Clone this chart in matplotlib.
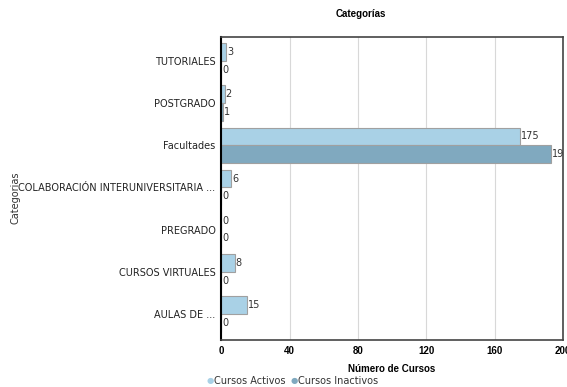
import numpy as np
import matplotlib.pyplot as plt

categorias = ["TUTORIALES", "POSTGRADO", "Facultades",
              "COLABORACIÓN INTERUNIVERSITARIA ...", "PREGRADO",
              "CURSOS VIRTUALES", "AULAS DE ..."]
activos = [3, 2, 175, 6, 0, 8, 15]
inactivos = [0, 1, 193, 0, 0, 0, 0]
ticks_x = [0, 40, 80, 120, 160, 200]

col_act = "#a9d1e6"
col_inact = "#80a9bf"
bold_font = "Liberation Sans"

fig = plt.figure(figsize=(5.67, 3.87), dpi=100)
ax = fig.add_axes([0.39, 0.1214, 0.603, 0.783])

y = np.arange(len(categorias))
h = 0.42
ax.barh(y - h / 2, activos, height=h, color=col_act, edgecolor="#a0a0a0", linewidth=0.8)
ax.barh(y + h / 2, inactivos, height=h, color=col_inact, edgecolor="#a0a0a0", linewidth=0.8)

for i in range(len(categorias)):
    ax.text(activos[i] + 0.6, y[i] - h / 2, str(activos[i]), fontsize=7,
            va="center", ha="left", color="#333333", clip_on=True)
    ax.text(inactivos[i] + 0.6, y[i] + h / 2, str(inactivos[i]), fontsize=7,
            va="center", ha="left", color="#333333", clip_on=True)

ax.set_xlim(0, 200)
ax.set_ylim(6.62, -0.57)
ax.set_yticks(y)
ax.set_yticklabels(categorias, fontsize=7, color="#222222")
ax.set_xticks(ticks_x)
ax.set_xticklabels([str(t) for t in ticks_x], fontsize=7, fontweight="bold",
                   family=bold_font)
ax.tick_params(axis="y", length=0, pad=4)
ax.tick_params(axis="x", length=0, pad=4)
ax.xaxis.grid(True, color="#d8d8d8", linewidth=0.8)
ax.set_axisbelow(True)
for s in ax.spines.values():
    s.set_color("#444444")
    s.set_linewidth(1.2)
ax.spines["left"].set_color("black")
ax.spines["left"].set_linewidth(1.5)

ax.set_xlabel("Número de Cursos", fontsize=7, fontweight="bold", family=bold_font,
              labelpad=6)
fig.text(0.027, 0.49, "Categorias", rotation=90, fontsize=7, ha="center",
         va="center", color="#333333")
fig.text(0.637, 0.963, "Categorías", fontsize=7, fontweight="bold",
         family=bold_font, ha="center", va="center")

fig.text(0.365, 0.016, "●", color=col_act, fontsize=6, ha="left", va="center")
fig.text(0.378, 0.016, "Cursos Activos", color="#333333", fontsize=7, ha="left", va="center")
fig.text(0.513, 0.016, "●", color=col_inact, fontsize=6, ha="left", va="center")
fig.text(0.526, 0.016, "Cursos Inactivos", color="#333333", fontsize=7, ha="left", va="center")

fig.savefig("out.png", dpi=100)
